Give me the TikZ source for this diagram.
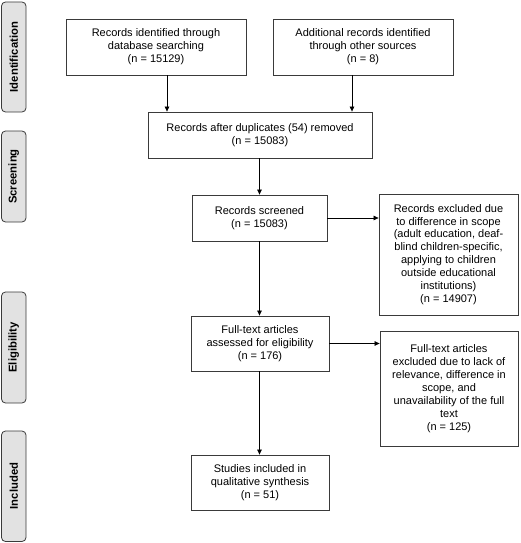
\documentclass[tikz,border=0pt]{standalone}
\usepackage{fontspec}
\setmainfont{Liberation Sans}
\usetikzlibrary{arrows.meta}
\definecolor{linec}{HTML}{3A3A3A}
\definecolor{sidefill}{HTML}{E2E2E2}
\tikzset{
  box/.style={draw=linec, line width=0.8pt, align=center, inner sep=0pt,
    font=\fontsize{11}{12.9}\selectfont},
  side/.style={draw=linec, line width=0.8pt, fill=sidefill, rounded corners=4pt},
  sidelabel/.style={rotate=90, font=\fontsize{11.3}{13}\selectfont\bfseries, inner sep=0pt},
  arr/.style={draw=black, line width=0.7pt, -{Triangle[length=5pt,width=4.5pt]}}
}
\begin{document}
\begin{tikzpicture}[x=1pt,y=-1pt]
\useasboundingbox (0,0) rectangle (520,543);
% side labels
\draw[side] (1.5,2) rectangle (26,112);
\node[sidelabel] (sl1) at (13.75,57) {Identification};
\draw[side] (1.5,131) rectangle (26,222);
\node[sidelabel] (sl2) at (13.75,176.5) {Screening};
\draw[side] (1.5,292) rectangle (26,403);
\node[sidelabel] (sl3) at (13.75,347.5) {Eligibility};
\draw[side] (1.5,431) rectangle (26,541.5);
\node[sidelabel] (sl4) at (13.75,486) {Included};
% boxes
\node[box, minimum width=180pt, minimum height=56pt] (b1) at (156,47)
  {Records identified through\\database searching\\(n = 15129)};
\node[box, minimum width=180pt, minimum height=56pt] (b2) at (363,47)
  {Additional records identified\\through other sources\\(n = 8)};
\node[box, minimum width=224pt, minimum height=46pt] (b3) at (260,135)
  {Records after duplicates (54) removed\\(n = 15083)};
\node[box, minimum width=135pt, minimum height=46pt] (b4) at (259.5,218)
  {Records screened\\(n = 15083)};
\node[box, minimum width=139pt, minimum height=121pt] (b5) at (448.5,254.5)
  {Records excluded due\\to difference in scope\\(adult education, deaf-\\blind children-specific,\\applying to children\\outside educational\\institutions)\\(n = 14907)};
\node[box, minimum width=138pt, minimum height=55pt] (b6) at (260,343.5)
  {Full-text articles\\assessed for eligibility\\(n = 176)};
\node[box, minimum width=138pt, minimum height=115pt] (b7) at (449,388.5)
  {Full-text articles\\excluded due to lack of\\relevance, difference in\\scope, and\\unavailability of the full\\text\\(n = 125)};
\node[box, minimum width=138pt, minimum height=55pt] (b8) at (260,482.5)
  {Studies included in\\qualitative synthesis\\(n = 51)};
% connectors
\draw[arr] (b1.south -| 167,0) -- (b3.north -| 167,0);
\draw[arr] (b2.south -| 352,0) -- (b3.north -| 352,0);
\draw[arr] (b3.south -| 259.5,0) -- (b4.north -| 259.5,0);
\draw[arr] (b4.east) -- (b5.west |- b4.east);
\draw[arr] (b4.south -| 259.5,0) -- (b6.north -| 259.5,0);
\draw[arr] (b6.east) -- (b7.west |- b6.east);
\draw[arr] (b6.south -| 259.5,0) -- (b8.north -| 259.5,0);
\end{tikzpicture}
\end{document}
